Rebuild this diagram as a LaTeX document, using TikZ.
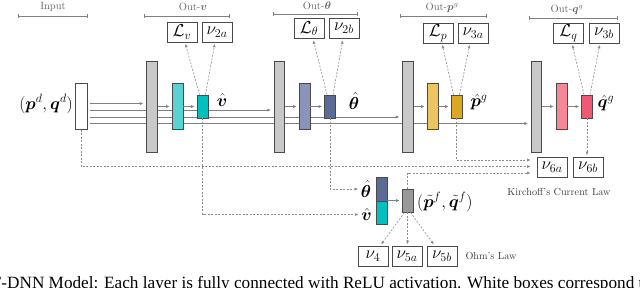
\documentclass[tikz,border=0pt]{standalone}
\usepackage{amsmath,bm}
\usepackage{fontspec}
\newfontfamily\capfont{Liberation Serif}
\usetikzlibrary{arrows.meta}
\definecolor{laygray}{HTML}{C8C8C8}
\definecolor{boxdraw}{HTML}{4A4A4A}
\definecolor{tealL}{RGB}{92,210,210}
\definecolor{tealD}{RGB}{0,192,192}
\definecolor{blueL}{RGB}{138,148,185}
\definecolor{blueD}{RGB}{92,106,152}
\definecolor{yelL}{RGB}{236,196,96}
\definecolor{yelD}{RGB}{220,168,36}
\definecolor{pinkL}{RGB}{245,136,150}
\definecolor{pinkD}{RGB}{238,90,118}
\definecolor{pfgray}{HTML}{999999}
\definecolor{linegray}{HTML}{808080}
\definecolor{dashgray}{HTML}{8C8C8C}
\definecolor{labgray}{HTML}{666666}
\definecolor{lawgray}{HTML}{3A3A3A}
\newcommand{\mfsize}{\fontsize{18}{20}\selectfont}
\newcommand{\lfsize}{\fontsize{10.5}{12}\selectfont}
\pgfdeclarelayer{background}
\pgfsetlayers{background,main}
\begin{document}
\begin{tikzpicture}[x=1pt,y=-1pt,
  box/.style={draw=boxdraw,line width=0.7pt,inner sep=0pt,minimum width=11pt},
  layer/.style={box,fill=laygray,minimum height=91pt,minimum width=10.5pt},
  hid/.style={box,minimum height=46pt},
  outb/.style={box,minimum height=23pt},
  lossbox/.style={draw=boxdraw,line width=0.6pt,fill=white,minimum width=30pt,minimum height=20pt,inner sep=0pt,font=\mfsize},
  mlab/.style={inner sep=1pt,font=\mfsize},
  glab/.style={text=labgray,font=\lfsize,inner sep=0pt},
  lawlab/.style={text=lawgray,font=\fontsize{10.2}{12}\selectfont,inner sep=0pt},
  flow/.style={draw=linegray,line width=0.6pt,-{Latex[length=3.5pt,width=3pt]},shorten >=2pt},
  dl/.style={draw=dashgray,line width=0.6pt,dash pattern=on 2pt off 1.5pt,-{Latex[length=3.5pt,width=3pt]},shorten >=1.5pt},
  brk/.style={draw=linegray,line width=0.6pt,{Bar[width=4pt]}-{Bar[width=4pt]}}]
\useasboundingbox (0,0) rectangle (640,287);
\clip (0,0) rectangle (640,287);

% input
\node[box,fill=white,minimum width=12pt,minimum height=46pt] (in) at (81,106.5) {};
\node[mlab,anchor=east] (inlab) at (74,104) {$(\bm{p}^d,\bm{q}^d)$};

% group v
\node[layer] (g1) at (152,106.5) {};
\node[hid,fill=tealL] (h1) at (177.5,106.5) {};
\node[outb,fill=tealD] (o1) at (202.5,106.5) {};
\node[mlab] (o1lab) at (222,100) {$\hat{\bm{v}}$};
\node[lossbox] (Lv) at (182,32) {$\mathcal{L}_v$};
\node[lossbox] (n2a) at (217,32) {$\nu_{2a}$};

% group theta
\node[layer] (g2) at (279.5,106.5) {};
\node[hid,fill=blueL] (h2) at (304.5,106.5) {};
\node[outb,fill=blueD] (o2) at (330,106.5) {};
\node[mlab] (o2lab) at (354,101) {$\hat{\bm{\theta}}$};
\node[lossbox] (Lt) at (309,28.5) {$\mathcal{L}_\theta$};
\node[lossbox] (n2b) at (344,28.5) {$\nu_{2b}$};

% group p
\node[layer] (g3) at (408,106.5) {};
\node[hid,fill=yelL] (h3) at (432.5,106.5) {};
\node[outb,fill=yelD] (o3) at (456.5,106.5) {};
\node[mlab] (o3lab) at (479,102) {$\hat{\bm{p}}^g$};
\node[lossbox] (Lp) at (438,33) {$\mathcal{L}_p$};
\node[lossbox] (n3a) at (473,33) {$\nu_{3a}$};

% group q
\node[layer] (g4) at (536.5,106.5) {};
\node[hid,fill=pinkL] (h4) at (561.5,106.5) {};
\node[outb,fill=pinkD] (o4) at (587,106.5) {};
\node[mlab] (o4lab) at (606,103) {$\hat{\bm{q}}^g$};
\node[lossbox] (Lq) at (568.5,33) {$\mathcal{L}_q$};
\node[lossbox] (n3b) at (604,33) {$\nu_{3b}$};

% section labels
\node[glab] (tIn) at (53,7) {Input};
\node[glab] (tOv) at (193,7) {Out-$\bm{v}$};
\node[glab] (tOt) at (317,6) {Out-$\bm{\theta}$};
\node[glab] (tOp) at (442,8) {Out-$\bm{p}^g$};
\node[glab] (tOq) at (567,9.5) {Out-$\bm{q}^g$};
\draw[brk] (18,16) -- (88,16);
\draw[brk] (144,16) -- (230,16);
\draw[brk] (273,14) -- (358,14);
\draw[brk] (400,16) -- (487,16);
\draw[brk] (529,18.3) -- (618,18.3);

% KCL boxes
\node[lossbox] (n6a) at (552,167) {$\nu_{6a}$};
\node[lossbox] (n6b) at (588,167) {$\nu_{6b}$};
\node[lawlab] (kcl) at (559,192) {Kirchoff's Current Law};

% stack and flow output
\node[box,fill=blueD,minimum height=24pt] (st) at (381.5,189) {};
\node[box,fill=tealD,minimum height=23pt] (sv) at (381.5,212.5) {};
\node[mlab] (stlab) at (366,189) {$\hat{\bm{\theta}}$};
\node[mlab] (svlab) at (366.5,214.5) {$\hat{\bm{v}}$};
\node[box,fill=pfgray,minimum height=23pt] (pf) at (407.5,200.5) {};
\node[mlab,anchor=west] (pflab) at (416,202) {$(\tilde{\bm{p}}^f,\tilde{\bm{q}}^f)$};

% Ohm boxes
\node[lossbox] (n4) at (373,256) {$\nu_{4}$};
\node[lossbox] (n5a) at (407,256) {$\nu_{5a}$};
\node[lossbox] (n5b) at (442,256) {$\nu_{5b}$};
\node[lawlab] (ohm) at (491,256) {Ohm's Law};

% caption (cut by the frame)
\node[anchor=base west,inner sep=0pt,font=\capfont\fontsize{17.2}{20}\selectfont] (cap) at (-8.3,288.3) {F-DNN Model: Each layer is fully connected with ReLU activation. White boxes correspond to};

% solid pass-through lines behind boxes
\begin{pgfonlayer}{background}
\draw[flow,shorten <=3pt,shorten >=3pt] ([yshift=3pt]in.east) -- ([yshift=3pt]g1.west);
\draw[flow,shorten <=3pt,shorten >=3pt] ([yshift=-3.5pt]in.east) -- ([yshift=-3.5pt]g2.west);
\draw[flow,shorten <=3pt,shorten >=3pt] ([yshift=-10.5pt]in.east) -- ([yshift=-10.5pt]g3.west);
\draw[flow,shorten <=3pt,shorten >=3pt] ([yshift=-17pt]in.east) -- ([yshift=-17pt]g4.west);
\end{pgfonlayer}

% short arrows inside groups
\foreach \a/\b in {g1/h1,h1/o1,g2/h2,h2/o2,g3/h3,h3/o3,g4/h4,h4/o4}
  \draw[flow] (\a.east) -- (\b.west);
\draw[flow] (pf.west -| st.east) -- (pf.west);

% loss arrows
\draw[dl] ([xshift=-3pt]o1.north) -- ([xshift=3pt]Lv.south);
\draw[dl] ([xshift=3pt]o1.north) -- ([xshift=-2pt]n2a.south);
\draw[dl] ([xshift=-3pt]o2.north) -- ([xshift=4pt]Lt.south);
\draw[dl] ([xshift=3pt]o2.north) -- ([xshift=-1pt]n2b.south);
\draw[dl] ([xshift=-3pt]o3.north) -- ([xshift=4pt]Lp.south);
\draw[dl] ([xshift=3pt]o3.north) -- ([xshift=-3pt]n3a.south);
\draw[dl] ([xshift=-3pt]o4.north) -- ([xshift=3.5pt]Lq.south);
\draw[dl] ([xshift=3pt]o4.north) -- ([xshift=-4pt]n3b.south);

% KCL connectors
\draw[dl,shorten >=6pt] (in.south) |- ([yshift=0.5pt]n6a.west);
\draw[dl,shorten >=6pt] (o3.south) |- ([yshift=7pt]n6a.west);
\draw[dl,shorten >=6pt] (pf.north) |- ([yshift=-6pt]n6a.west);
\draw[dl] (o4.south) -- (o4.south |- n6b.north);

% to stack
\draw[dl] (o1.south) |- (svlab);
\draw[dl] (o2.south) |- (stlab);

% Ohm connectors
\draw[dl] ([xshift=-3pt]pf.south) -- ([xshift=-8pt]n4.north east);
\draw[dl] (pf.south) -- (pf.south |- n5a.north);
\draw[dl] ([xshift=3pt]pf.south) -- ([xshift=8pt]n5b.north west);
\end{tikzpicture}
\end{document}
